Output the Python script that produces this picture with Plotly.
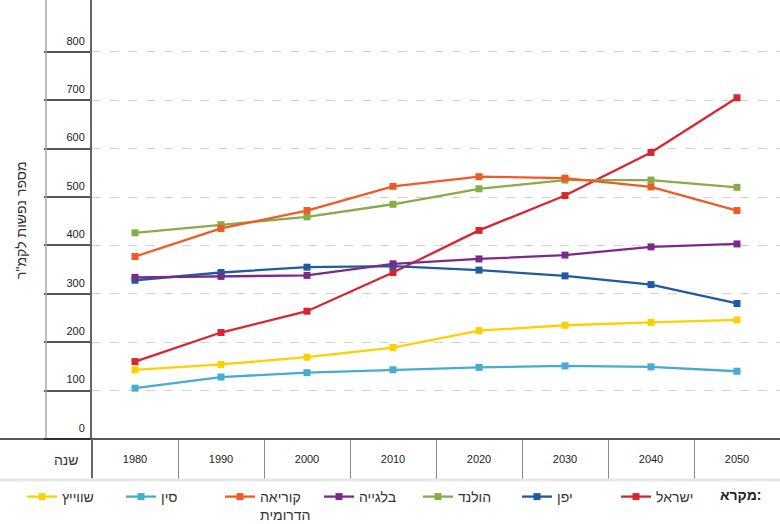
import plotly.graph_objects as go

years = ["1980", "1990", "2000", "2010", "2020", "2030", "2040", "2050"]

israel = [160, 220, 264, 344, 431, 503, 592, 705]
japan = [328, 344, 355, 357, 349, 337, 319, 280]
netherlands = [426, 443, 459, 485, 517, 535, 535, 520]
belgium = [334, 336, 338, 362, 372, 380, 397, 403]
korea = [377, 435, 472, 522, 542, 539, 521, 472]
china = [105, 128, 137, 143, 148, 151, 149, 140]
switzerland = [143, 154, 169, 189, 224, 235, 241, 246]

series = [
    ("ישראל", israel, "#d9252f"),
    ("יפן", japan, "#1d5c9e"),
    ("הולנד", netherlands, "#86ad4a"),
    ("בלגייה", belgium, "#7b2a8c"),
    ("קוריאה<br>הדרומית", korea, "#f15a25"),
    ("סין", china, "#48abd2"),
    ("שווייץ", switzerland, "#ffd000"),
]

y_ticks = [0, 100, 200, 300, 400, 500, 600, 700, 800]

FONT = "Arial, Liberation Sans, DejaVu Sans, sans-serif"

fig = go.Figure()
for name, vals, col in series:
    fig.add_trace(go.Scatter(
        x=years, y=vals, name=name, mode="lines+markers",
        line=dict(color=col, width=2.3),
        marker=dict(symbol="square", size=7, color=col),
        hoverinfo="skip",
    ))

W, H = 780, 524
L, B = 92, 85
pw, ph = W - L, H - B

def px_x(x):
    return (x - L) / pw

def px_y(y):
    return (H - B - y) / ph

fig.update_layout(
    width=W, height=H,
    margin=dict(l=L, r=0, t=0, b=B, autoexpand=False),
    plot_bgcolor="white", paper_bgcolor="white",
    font=dict(family=FONT, color="#222"),
    showlegend=True,
    legend=dict(
        orientation="h", traceorder="reversed",
        x=px_x(22), xanchor="left", y=px_y(481), yanchor="top",
        font=dict(size=14, color="#333"), valign="top",
        entrywidth=54, bgcolor="rgba(0,0,0,0)",
    ),
    xaxis=dict(
        type="category", categoryorder="array", categoryarray=years,
        range=[-0.5, 7.5], showgrid=False, showline=False, zeroline=False,
        automargin=False,
        ticks="outside", tickson="boundaries", ticklen=39, tickwidth=1.3,
        tickcolor="#8a8a8a", tickfont=dict(size=11, color="#222"),
        ticklabelstandoff=12,
    ),
    yaxis=dict(
        range=[0, ph / 0.484], tickmode="array", tickvals=y_ticks,
        ticktext=[str(v) for v in y_ticks], automargin=False,
        showgrid=True, gridcolor="#d2d2d2", griddash="dash", gridwidth=1,
        zeroline=False, showline=True, linecolor="#666", linewidth=2,
        ticks="outside", ticklen=46, tickwidth=1.5, tickcolor="#555",
        tickfont=dict(size=11, color="#222"),
        ticklabelstandoff=-43, ticklabelshift=-11,
    ),
)

shapes = [
    dict(type="line", xref="paper", yref="paper", x0=px_x(46), x1=px_x(46),
         y0=0, y1=1, line=dict(color="#a8a8a8", width=1.5)),
    dict(type="line", xref="paper", yref="paper", x0=px_x(0), x1=1,
         y0=0, y1=0, line=dict(color="#222", width=1.6)),
    dict(type="line", xref="paper", yref="paper", x0=0, x1=0,
         y0=px_y(478), y1=0, line=dict(color="#666", width=2)),
    dict(type="line", xref="paper", yref="paper", x0=px_x(0), x1=1,
         y0=px_y(480), y1=px_y(480), line=dict(color="#e6e8e8", width=3)),
]
fig.update_layout(shapes=shapes)

fig.add_annotation(text="שנה", xref="paper", yref="paper", x=px_x(81), y=px_y(460),
                   xanchor="right", yanchor="middle", showarrow=False,
                   font=dict(size=14, color="#333", family=FONT))
fig.add_annotation(text="מספר נפשות לקמ\"ר", xref="paper", yref="paper",
                   x=px_x(21), y=px_y(220), textangle=-90, showarrow=False,
                   xanchor="center", yanchor="middle",
                   font=dict(size=14, color="#333", family=FONT))
fig.add_annotation(text="<b>מקרא:</b>", xref="paper", yref="paper",
                   x=px_x(763), y=px_y(495), xanchor="right", yanchor="middle",
                   showarrow=False, font=dict(size=14, color="#222", family=FONT))

fig.write_html("out.html",
               config={"displayModeBar": False},
               post_script="document.body.style.margin='0';document.body.style.overflow='hidden';")
